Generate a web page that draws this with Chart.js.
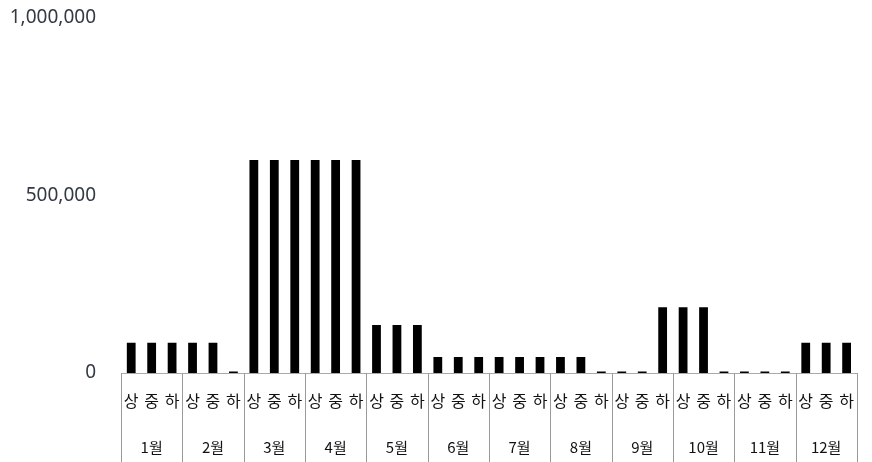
<!DOCTYPE html>
<html lang="ko">
<head>
<meta charset="utf-8">
<title>월별 상/중/하</title>
<script src="https://cdn.jsdelivr.net/npm/chart.js@4/dist/chart.umd.min.js"></script>
<style>
    html, body { margin: 0; padding: 0; background: #ffffff; }
    canvas { display: block; }
</style>
</head>
<body>
<canvas id="monthChart" width="872" height="462"></canvas>
<script>
// Dados
const months = ['1월', '2월', '3월', '4월', '5월', '6월', '7월', '8월', '9월', '10월', '11월', '12월'];
const parts = ['상', '중', '하'];
const values = [
    85000, 85000, 85000,      // 1월
    85000, 85000, 4000,       // 2월
    600000, 600000, 600000,   // 3월
    600000, 600000, 600000,   // 4월
    135000, 135000, 135000,   // 5월
    45000, 45000, 45000,      // 6월
    45000, 45000, 45000,      // 7월
    45000, 45000, 4000,       // 8월
    4000, 4000, 185000,       // 9월
    185000, 185000, 4000,     // 10월
    4000, 4000, 4000,         // 11월
    85000, 85000, 85000       // 12월
];
const yTicks = [0, 500000, 1000000];

const partLabels = months.flatMap(() => parts);

// Separadores verticais entre os meses
const groupLines = {
    id: 'groupLines',
    afterDraw(chart) {
        const x = chart.scales.x;
        const ctx = chart.ctx;
        const step = x.getPixelForValue(1) - x.getPixelForValue(0);
        ctx.save();
        ctx.strokeStyle = '#9a9a9a';
        ctx.lineWidth = 1;
        for (let i = 0; i <= months.length; i++) {
            const px = Math.round(x.getPixelForValue(i * parts.length) - step / 2) + 0.5;
            ctx.beginPath();
            ctx.moveTo(px, chart.chartArea.bottom);
            ctx.lineTo(px, chart.height);
            ctx.stroke();
        }
        ctx.restore();
    }
};

const ctx = document.getElementById('monthChart').getContext('2d');
new Chart(ctx, {
    type: 'bar',
    data: {
        labels: partLabels,
        datasets: [{
            data: values,
            backgroundColor: '#000000',
            borderWidth: 0,
            barPercentage: 0.43,
            categoryPercentage: 1
        }]
    },
    options: {
        responsive: false,
        animation: false,
        layout: { padding: { top: 18, right: 2, left: 0, bottom: 0 } },
        plugins: {
            legend: { display: false },
            tooltip: { enabled: false }
        },
        scales: {
            y: {
                min: 0,
                max: 1000000,
                afterBuildTicks: (scale) => {
                    scale.ticks = yTicks.map(v => ({ value: v }));
                },
                afterFit: (scale) => {
                    scale.width = 121;
                    scale.paddingTop = 0;
                    scale.paddingBottom = 0;
                },
                grid: { display: false, drawTicks: false },
                border: { display: false },
                ticks: {
                    padding: 25,
                    color: '#333a44',
                    font: { family: 'Noto Sans', size: 19 },
                    callback: (v) => Number(v).toLocaleString('en-US')
                }
            },
            x: {
                offset: true,
                afterFit: (scale) => { scale.height = 36; },
                grid: { display: false, drawTicks: false },
                border: { display: true, color: '#aaaaaa' },
                ticks: {
                    autoSkip: false,
                    maxRotation: 0,
                    padding: 18,
                    color: '#111111',
                    font: { family: 'Noto Sans CJK KR', size: 16 }
                }
            },
            xMonth: {
                type: 'category',
                position: 'bottom',
                labels: months,
                offset: true,
                afterFit: (scale) => { scale.height = 53; },
                grid: { display: false, drawTicks: false },
                border: { display: false },
                ticks: {
                    autoSkip: false,
                    maxRotation: 0,
                    padding: 29,
                    color: '#111111',
                    font: { family: 'Noto Sans CJK KR', size: 15 }
                }
            }
        }
    },
    plugins: [groupLines]
});
</script>
</body>
</html>
